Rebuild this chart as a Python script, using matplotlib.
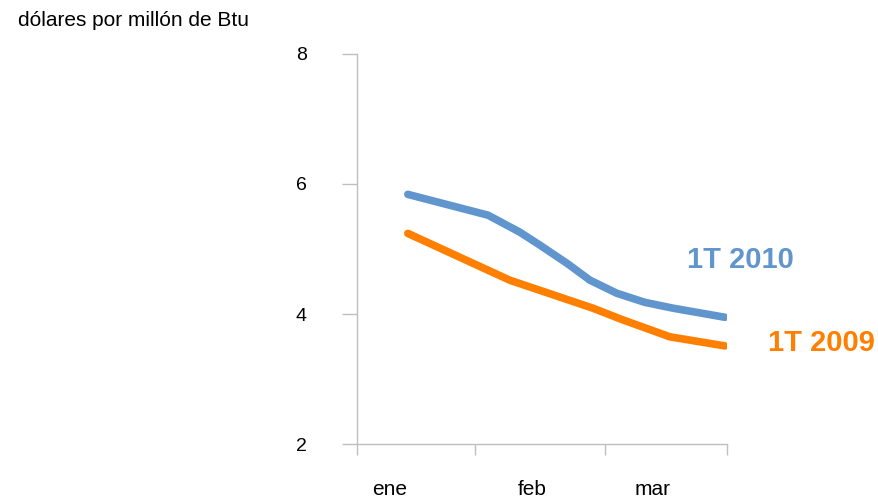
import matplotlib
matplotlib.use('Agg')
import matplotlib.pyplot as plt

plt.rcParams['font.family'] = ['Liberation Sans', 'DejaVu Sans']

# dia del trimestre (0 = 1 de enero) y precio en dolares por millon de Btu
dias_2010 = [12.4, 31.9, 39.6, 44.5, 51.1, 56.7, 63.2, 70.0, 76.9, 89.5]
precio_2010 = [5.84, 5.52, 5.26, 5.06, 4.78, 4.52, 4.32, 4.18, 4.09, 3.95]

dias_2009 = [12.4, 37.2, 57.4, 64.7, 76.1, 89.5]
precio_2009 = [5.24, 4.52, 4.09, 3.91, 3.65, 3.51]

limites_mes = [0, 28.7, 60.3, 90]
pos_meses = [8.0, 42.6, 71.8]
meses = ['ene', 'feb', 'mar']
yticks = [2, 4, 6, 8]

azul = '#6096CD'
naranja = '#FF7F00'
gris = '#BFBFBF'

fig = plt.figure(figsize=(8.79, 4.99), dpi=100)
ax = fig.add_axes([0.406, 0.110, 0.421, 0.782])

ax.plot(dias_2010, precio_2010, color=azul, lw=5.5, solid_capstyle='round',
        solid_joinstyle='round')
ax.plot(dias_2009, precio_2009, color=naranja, lw=5.5, solid_capstyle='round',
        solid_joinstyle='round')

ax.set_xlim(0, 90)
ax.set_ylim(2, 8)

ax.set_yticks(yticks)
ax.set_yticklabels([str(v) for v in yticks], fontsize=14)
ax.set_xticks(limites_mes)
ax.set_xticklabels([])
ax.set_xticks(pos_meses, minor=True)
ax.set_xticklabels(meses, minor=True, fontsize=15)

ax.tick_params(axis='y', length=11, width=1, color=gris, pad=25)
ax.tick_params(axis='x', which='major', length=8, width=1, color=gris)
ax.tick_params(axis='x', which='minor', length=0, pad=26)

for lado in ['top', 'right']:
    ax.spines[lado].set_visible(False)
for lado in ['left', 'bottom']:
    ax.spines[lado].set_color(gris)
    ax.spines[lado].set_linewidth(1)

# etiquetas de cada serie a la derecha de las lineas
ax.text(93.2, 4.83, '1T 2010', color=azul, fontsize=21, fontweight='bold',
        ha='center', va='center', clip_on=False)
ax.text(112.9, 3.55, '1T 2009', color=naranja, fontsize=21, fontweight='bold',
        ha='center', va='center', clip_on=False)

fig.text(0.021, 0.958, 'dólares por millón de Btu', fontsize=15,
         ha='left', va='center')

fig.savefig('out.png', dpi=100)
